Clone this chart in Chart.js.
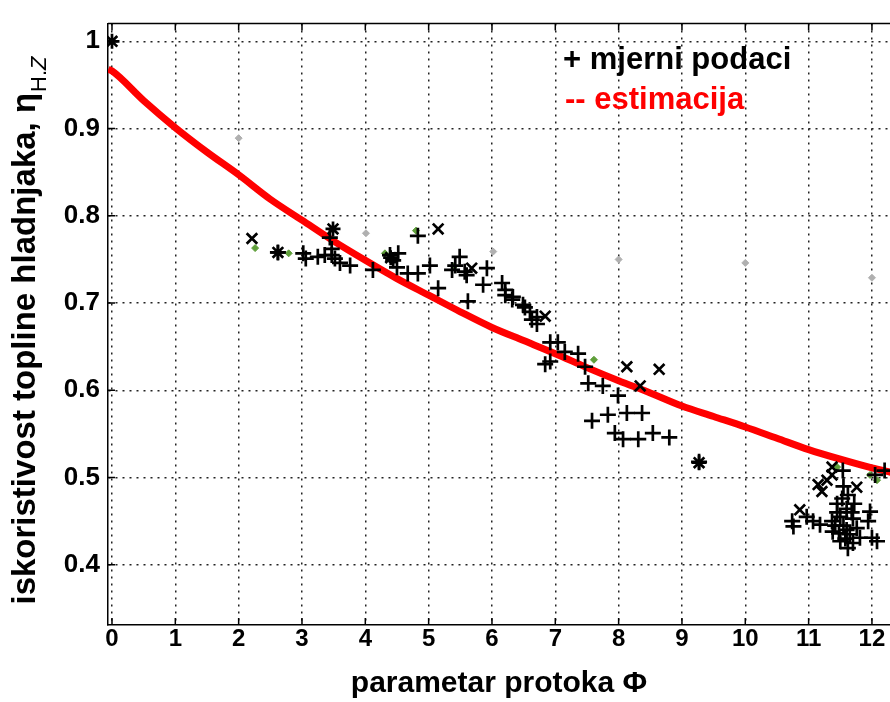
<!DOCTYPE html>
<html>
<head>
<meta charset="utf-8">
<script src="https://cdn.jsdelivr.net/npm/chart.js@4.4.1/dist/chart.umd.min.js"></script>
<style>
  html, body { margin: 0; padding: 0; background: #fff; }
  canvas { display: block; }
</style>
</head>
<body>
<canvas id="chart" width="890" height="702"></canvas>
<script>
// axis ticks
const xTicks = [0, 1, 2, 3, 4, 5, 6, 7, 8, 9, 10, 11, 12];
const yTicks = [0.4, 0.5, 0.6, 0.7, 0.8, 0.9, 1];
const yTickLabels = ['0.4', '0.5', '0.6', '0.7', '0.8', '0.9', '1'];

const plusPoints = [
  [2.62, 0.758], [3.02, 0.757], [3.06, 0.751], [3.25, 0.753], [3.36, 0.755], [3.47, 0.755],
  [3.44, 0.775], [3.52, 0.751], [3.6, 0.746], [3.76, 0.743], [3.47, 0.762], [4.12, 0.738],
  [4.39, 0.755], [4.44, 0.749], [4.52, 0.757], [4.83, 0.777], [4.5, 0.741], [4.67, 0.734],
  [4.83, 0.734], [5.02, 0.743], [5.15, 0.717], [5.49, 0.753], [5.37, 0.738], [5.42, 0.743],
  [5.57, 0.736], [5.62, 0.702], [5.6, 0.732], [5.92, 0.74], [5.86, 0.721], [6.16, 0.723],
  [6.21, 0.715], [6.21, 0.709], [6.33, 0.707], [6.32, 0.704], [6.49, 0.698], [6.52, 0.695],
  [6.6, 0.69], [6.63, 0.681], [6.71, 0.684], [6.71, 0.676], [6.92, 0.655], [7.04, 0.655],
  [6.84, 0.63], [6.92, 0.633], [7.15, 0.644], [7.36, 0.642], [7.47, 0.627], [7.52, 0.608],
  [7.75, 0.605], [7.99, 0.594], [7.58, 0.565], [7.83, 0.572], [8.13, 0.574], [8.37, 0.574],
  [7.94, 0.551], [8.07, 0.544], [8.31, 0.544], [8.54, 0.551], [8.8, 0.546], [9.27, 0.518],
  [10.74, 0.45], [10.76, 0.444], [10.97, 0.455], [11.07, 0.45], [11.18, 0.446], [11.37, 0.45],
  [11.38, 0.438], [11.53, 0.476], [11.6, 0.464], [11.45, 0.46], [11.7, 0.453], [11.65, 0.435],
  [11.5, 0.427], [11.62, 0.419], [11.76, 0.442], [11.97, 0.461], [11.94, 0.45], [12.0, 0.431],
  [12.08, 0.427], [11.81, 0.431], [11.54, 0.508], [12.05, 0.503], [12.2, 0.508],
  [11.45, 0.47], [11.5, 0.455], [11.55, 0.445], [11.6, 0.44], [11.68, 0.46], [11.42, 0.445],
  [11.48, 0.436], [11.58, 0.43], [11.7, 0.425], [11.55, 0.49], [11.62, 0.48], [11.72, 0.47]
];
const crossPoints = [
  [2.21, 0.774], [5.15, 0.785], [5.68, 0.74], [6.84, 0.685], [8.13, 0.627], [8.64, 0.624],
  [8.34, 0.605], [11.37, 0.512], [11.37, 0.503], [11.29, 0.497], [11.15, 0.492], [11.21, 0.484],
  [11.76, 0.489], [10.86, 0.463]
];
const starPoints = [[0.0, 1.0], [2.62, 0.758], [3.49, 0.785], [4.4, 0.752], [9.27, 0.517]];
const greenPoints = [
  [2.26, 0.763], [2.79, 0.757], [4.31, 0.757], [4.8, 0.783], [5.4, 0.742], [7.61, 0.635],
  [11.45, 0.512], [11.97, 0.503], [12.08, 0.497]
];
const grayPoints = [[0.0, 1.0], [2.0, 0.889], [4.01, 0.78], [6.02, 0.759], [8.0, 0.75], [10.0, 0.746], [12.0, 0.729]];

// estimated curve
const fitX = [-0.06, 0, 0.5, 1, 1.5, 2, 2.5, 3, 3.5, 4, 4.5, 5, 5.5, 6, 6.5, 7, 7.5, 8, 8.5, 9, 9.5, 10, 10.5, 11, 11.5, 12, 12.3];
const fitY = [0.968, 0.966, 0.932, 0.901, 0.873, 0.847, 0.819, 0.795, 0.771, 0.749, 0.728, 0.709, 0.69, 0.672,
              0.657, 0.642, 0.626, 0.611, 0.597, 0.582, 0.57, 0.558, 0.545, 0.532, 0.521, 0.511, 0.506];

const toXY = arr => arr.map(p => ({ x: p[0], y: p[1] }));
const FONT = '"Liberation Sans", Arial, sans-serif';

const framePlugin = {
  id: 'frame',
  afterDatasetsDraw(chart) {
    const { ctx, chartArea: a, scales: { x, y } } = chart;
    ctx.save();
    ctx.strokeStyle = '#000';
    ctx.lineWidth = 1.5;
    ctx.beginPath();
    ctx.moveTo(a.left, a.top);
    ctx.lineTo(a.right, a.top);
    xTicks.forEach(v => {
      const px = x.getPixelForValue(v);
      ctx.moveTo(px, a.bottom); ctx.lineTo(px, a.bottom - 7);
      ctx.moveTo(px, a.top); ctx.lineTo(px, a.top + 7);
    });
    yTicks.forEach(v => {
      const py = y.getPixelForValue(v);
      ctx.moveTo(a.left, py); ctx.lineTo(a.left + 7, py);
    });
    ctx.stroke();

    // legend text
    ctx.textBaseline = 'middle';
    ctx.textAlign = 'left';
    ctx.font = 'bold 31px ' + FONT;
    ctx.fillStyle = '#000';
    ctx.fillText('+ mjerni podaci', 563, 60);
    ctx.fillStyle = '#ff0000';
    ctx.fillText('-- estimacija', 565, 100);

    // y axis title with subscript
    ctx.translate(35, 331);
    ctx.rotate(-Math.PI / 2);
    const main = 'iskoristivost topline hladnjaka, η';
    ctx.fillStyle = '#000';
    ctx.textBaseline = 'alphabetic';
    ctx.font = 'bold 33px ' + FONT;
    const w1 = ctx.measureText(main).width;
    ctx.font = '22px ' + FONT;
    const w2 = ctx.measureText('H.Z').width;
    const start = -(w1 + w2) / 2;
    ctx.font = 'bold 33px ' + FONT;
    ctx.fillText(main, start, 0);
    ctx.font = '22px ' + FONT;
    ctx.fillText('H.', start + w1 + 1, 11);
    const wH = ctx.measureText('H.').width;
    ctx.font = 'italic 22px ' + FONT;
    ctx.fillText('Z', start + w1 + 1 + wH, 11);
    ctx.restore();
  }
};

new Chart(document.getElementById('chart'), {
  type: 'scatter',
  data: {
    datasets: [
      {
        label: 'mjerni podaci',
        data: toXY(plusPoints),
        pointStyle: 'cross',
        pointRadius: 8,
        borderColor: '#000',
        borderWidth: 2.7
      },
      {
        data: toXY(crossPoints),
        pointStyle: 'crossRot',
        pointRadius: 7.5,
        borderColor: '#000',
        borderWidth: 2.7
      },
      {
        data: toXY(starPoints),
        pointStyle: 'star',
        pointRadius: 7.5,
        borderColor: '#000',
        borderWidth: 2.7
      },
      {
        data: toXY(greenPoints),
        pointStyle: 'rectRot',
        pointRadius: 3.5,
        backgroundColor: '#5f9f3a',
        borderColor: '#5f9f3a',
        borderWidth: 1
      },
      {
        data: toXY(grayPoints),
        pointStyle: 'rectRot',
        pointRadius: 3.5,
        backgroundColor: '#b0b0b0',
        borderColor: '#b0b0b0',
        borderWidth: 1
      },
      {
        type: 'line',
        label: 'estimacija',
        data: fitX.map((v, i) => ({ x: v, y: fitY[i] })),
        borderColor: '#ff0000',
        borderWidth: 7,
        pointRadius: 0,
        cubicInterpolationMode: 'monotone',
        fill: false
      }
    ]
  },
  options: {
    responsive: false,
    animation: false,
    devicePixelRatio: 1,
    layout: { padding: { top: 15, right: 0, left: 0, bottom: 0 }, autoPadding: false },
    scales: {
      x: {
        type: 'linear',
        min: -0.063,
        max: 12.285,
        afterBuildTicks: scale => { scale.ticks = xTicks.map(v => ({ value: v })); },
        afterFit: scale => { scale.height = 77; },
        grid: { color: '#222', lineWidth: 1.5, drawTicks: false },
        border: { display: true, color: '#000', width: 1.5, dash: [2, 5] },
        ticks: {
          color: '#000',
          padding: 0,
          maxRotation: 0,
          font: { family: '"Liberation Sans Narrow", ' + FONT, size: 24, weight: 'bold' }
        },
        title: {
          display: true,
          text: 'parametar protoka Φ',
          color: '#000',
          padding: 0,
          font: { family: '"Liberation Sans Narrow", ' + FONT, size: 30, weight: 'bold' }
        }
      },
      y: {
        type: 'linear',
        min: 0.331,
        max: 1.0203,
        afterBuildTicks: scale => { scale.ticks = yTicks.map(v => ({ value: v })); },
        afterFit: scale => { scale.width = 108; },
        grid: { color: '#222', lineWidth: 1.5, drawTicks: false },
        border: { display: true, color: '#000', width: 1.5, dash: [2, 5] },
        ticks: {
          color: '#000',
          padding: 8,
          callback: (v, i) => yTickLabels[i],
          font: { family: FONT, size: 26, weight: 'bold' }
        }
      }
    },
    plugins: {
      legend: { display: false },
      tooltip: { enabled: false }
    }
  },
  plugins: [framePlugin]
});
</script>
</body>
</html>
